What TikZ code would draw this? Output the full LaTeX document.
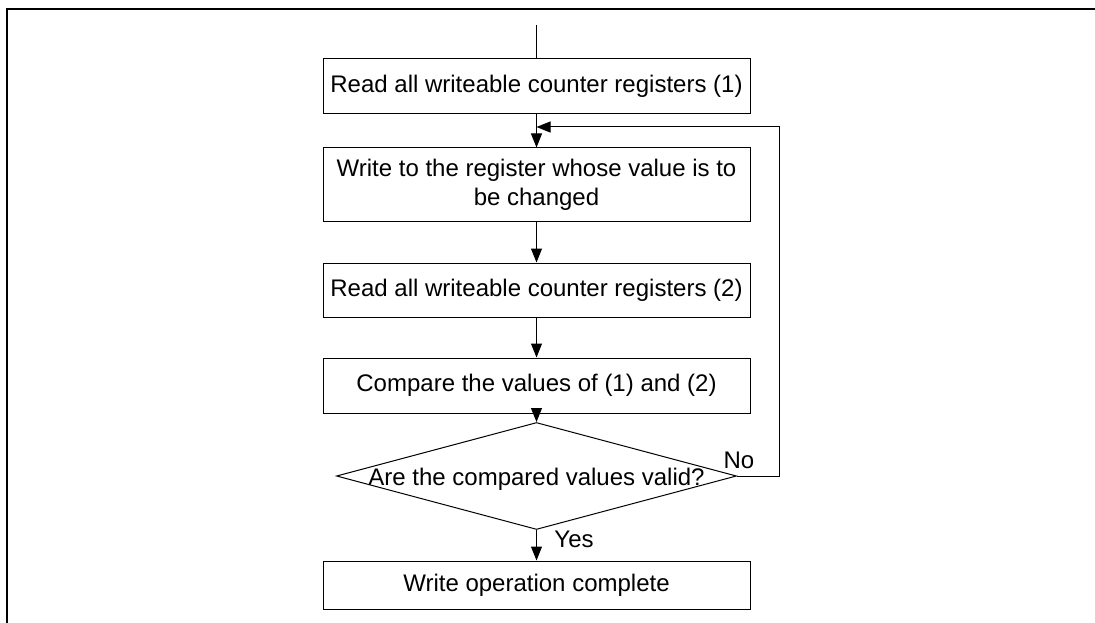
\documentclass[tikz,border=0pt]{standalone}
\usepackage{fontspec}
\setmainfont{Liberation Sans}
\usetikzlibrary{shapes.geometric,arrows.meta}
\begin{document}
\begin{tikzpicture}[x=1pt,y=-1pt,line width=1pt,->,>={Triangle[length=14pt,width=11pt]},
    every label/.style={font=\fontsize{24}{29}\selectfont}]
  \tikzstyle{stepbox}=[draw,rectangle,minimum width=427pt,inner sep=0pt,font=\fontsize{24}{29}\selectfont]
  \tikzstyle{test}=[draw,diamond,aspect=3.74,minimum width=400pt,minimum height=107pt,inner sep=0pt]
  \tikzstyle{answer}=[anchor=base,inner sep=0pt,font=\fontsize{24}{29}\selectfont]
  \useasboundingbox (0,0) rectangle (1095,623);
  \draw[-,line width=2.8pt] (1095,9) -- (7,9) -- (7,623);
  \coordinate (start) at (536.5,25);
  \node[stepbox,minimum height=55pt] (R1) at (536.5,86.5) {Read all writeable counter registers (1)};
  \node[stepbox,minimum height=73pt,align=center] (W) at (536.5,184.5) {Write to the register whose value is to\\be changed};
  \node[stepbox,minimum height=54pt] (R2) at (536.5,290) {Read all writeable counter registers (2)};
  \node[stepbox,minimum height=55pt] (C) at (536.5,385.5) {Compare the values of (1) and (2)};
  \node[test,label={[yshift=-3pt]center:Are the compared values valid?}] (V) at (536.5,476) {};
  \node[stepbox,minimum height=48pt] (E) at (536.5,585) {Write operation complete};
  \node[answer] (No) at (739,468) {No};
  \node[answer] (Yes) at (574,547) {Yes};
  \coordinate (loopout) at (779,476);
  \coordinate (looptop) at (779,127);
  \coordinate (loopin) at (536.5,127);
  \draw[-] (start) -- (R1);
  \draw (R1) -- (W);
  \draw (W) -- (R2);
  \draw (R2) -- (C);
  \draw (C) -- (V);
  \draw (V) -- (E);
  \draw (V.east) -- (loopout) -- (looptop) -- (loopin);
\end{tikzpicture}
\end{document}
